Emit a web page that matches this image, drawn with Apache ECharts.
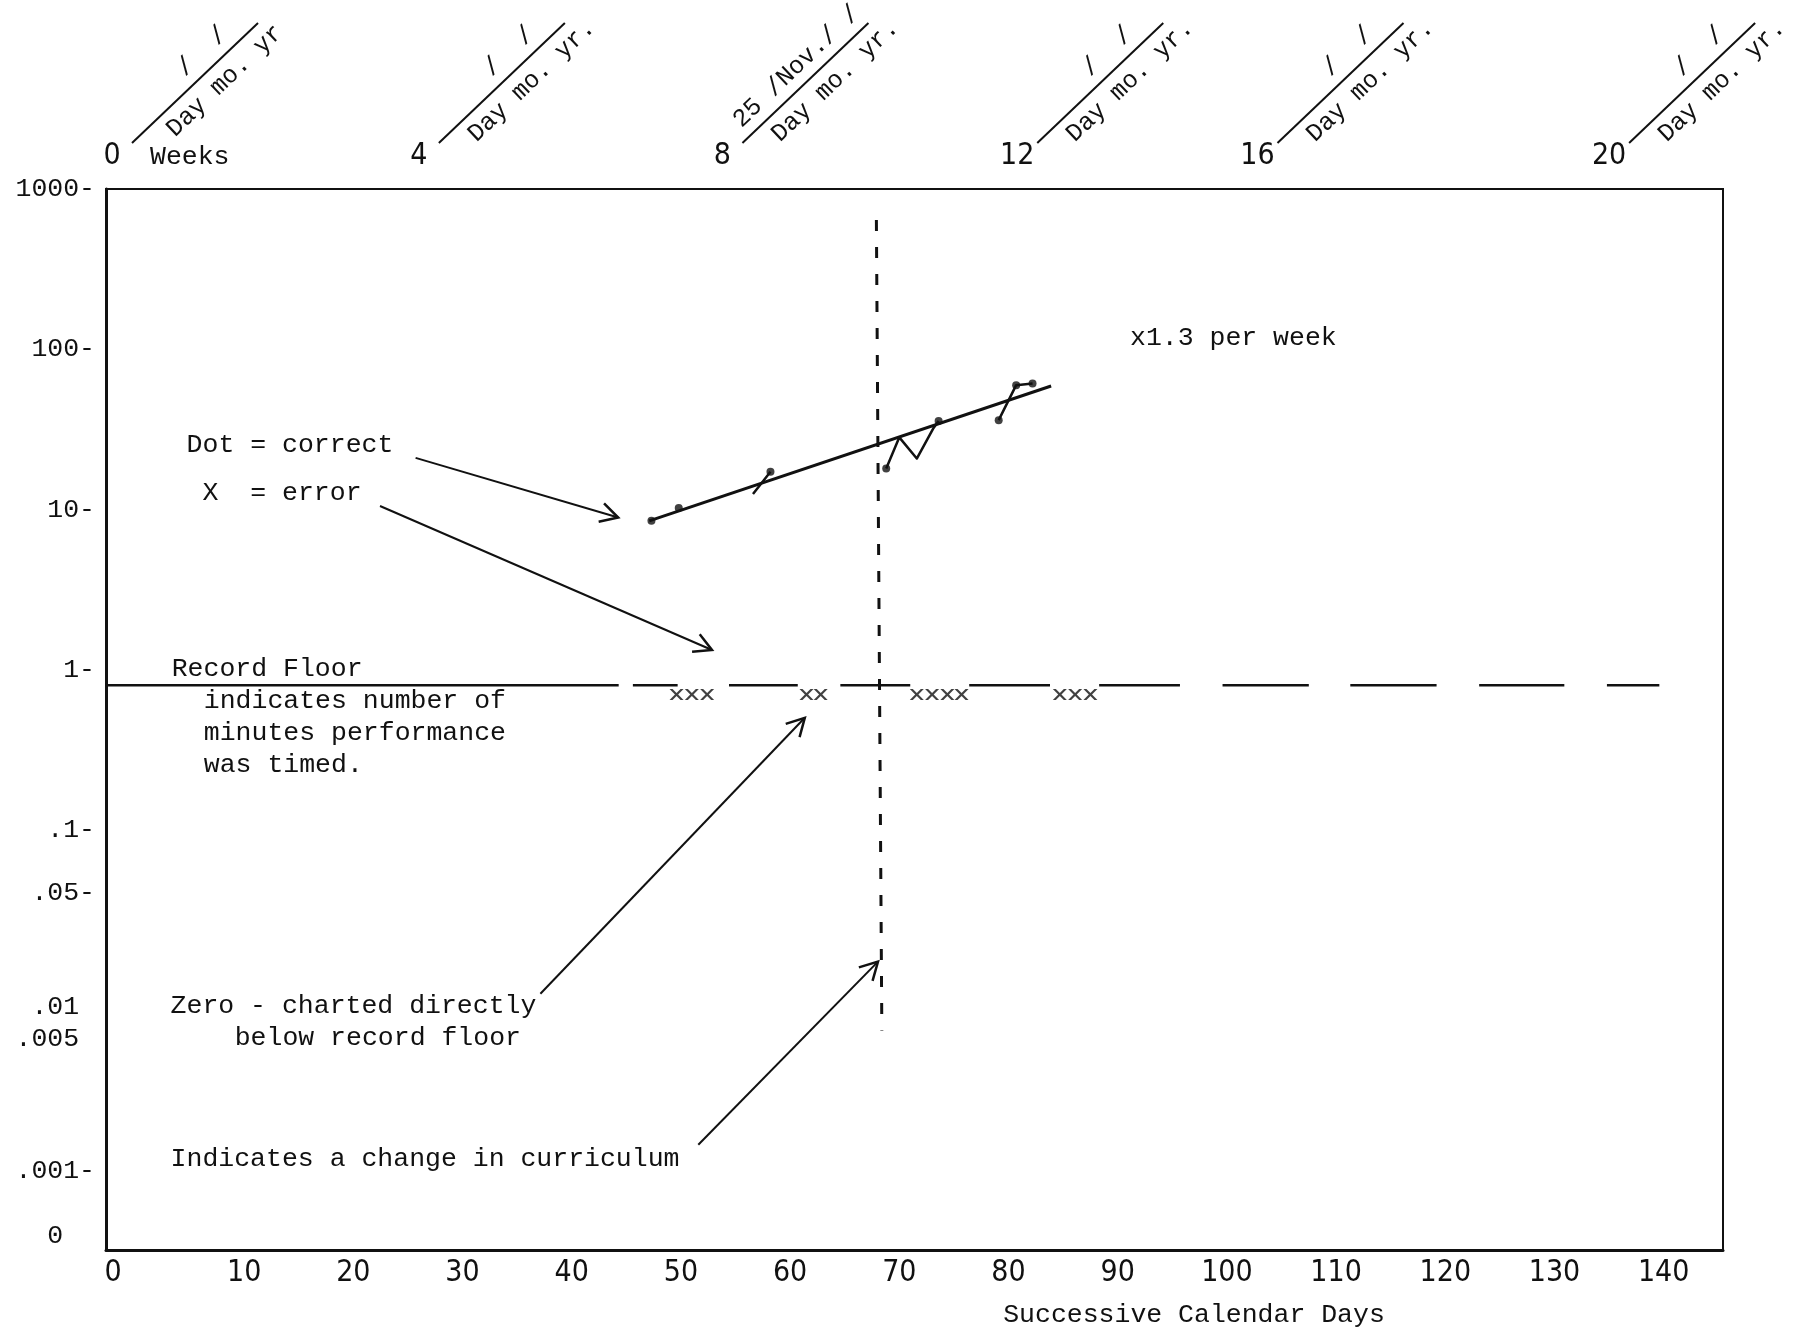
<!DOCTYPE html>
<html>
<head>
<meta charset="utf-8">
<script src="https://cdn.jsdelivr.net/npm/echarts@6/dist/echarts.min.js"></script>
<style>
  html, body { margin: 0; background: #fff; }
  #chart { width: 1795px; height: 1333px; }
</style>
</head>
<body>
<div id="chart"></div>
<script>
// ---- 坐标轴刻度 ----
const dayTickValues = [-2, 10, 20, 30, 40, 50, 60, 70, 80, 90, 100, 110, 120, 130, 140];
const dayTickLabels = ['0', '10', '20', '30', '40', '50', '60', '70', '80', '90', '100', '110', '120', '130', '140'];
const weekTickDays = [-2.1, 26.0, 53.8, 80.8, 102.8, 135.0];
const weekTickLabels = ['0', '4', '8', '12', '16', '20'];
const weekDateUpper = ['/  /', '/  /', '25 /Nov./ /', '/  /', '/  /', '/  /'];
const weekDateLower = ['Day mo. yr', 'Day mo. yr.', 'Day mo. yr.', 'Day mo. yr.', 'Day mo. yr.', 'Day mo. yr.'];
// y 轴：对数单位 (log10)，标签位置按原图读取
const yTickLevels = [3, 2, 1, 0, -1, -1.393, -2.107, -2.307, -3.129, -3.536];
const yTickLabels = ['1000-', '100-', '10-', '1-', '.1-', '.05-', '.01 ', '.005 ', '.001-', '0  '];

// ---- 数据 ----
const recordFloor = 0.8;
const floorSegments = [[-2.65, 44.3], [45.6, 49.7], [54.4, 60.7], [64.6, 71.0], [76.4, 83.8],
  [88.3, 95.7], [99.6, 107.5], [111.3, 119.2], [123.1, 130.9], [134.8, 139.6]];
// 正确次数（手绘连线，null 为断开）
const correctDays = [56.6, 58.2, null, 68.8, 70.0, 71.6, 73.1, 73.6, null, 79.1, 80.7, 82.2];
const correctValues = [12.5, 17.2, null, 18.0, 28.2, 20.8, 32.0, 35.7, null, 36.1, 59.7, 61.2];
const correctDotDays = [47.3, 49.8, 58.2, 68.8, 73.6, 79.1, 80.7, 82.2];
const correctDotValues = [8.5, 10.2, 17.2, 18.0, 35.7, 36.1, 59.7, 61.2];
// 加速线
const celerationDays = [47.1, 83.9];
const celerationValues = [8.5, 59];
// 错误为零，记在记录下限下方
const errorDays = [49.6, 51.0, 52.4, 61.5, 62.8, 71.6, 73.0, 74.4, 75.7, 84.7, 86.1, 87.5];
const errorValue = 0.7;
// 课程变更线
const phaseDays = [67.9, 68.4];
const phaseValues = [640, 0.0056];

const MONO = "'Liberation Mono', 'DejaVu Sans Mono', monospace";
const NARROW = "'Liberation Sans Narrow', 'DejaVu Sans Condensed', 'Liberation Sans', sans-serif";
const INK = '#111';

const lg = v => Math.log10(v);
const nearest = (arr, v) => {
  let best = 0;
  arr.forEach((a, i) => { if (Math.abs(a - v) < Math.abs(arr[best] - v)) best = i; });
  return best;
};

const floorData = [];
floorSegments.forEach(([a, b]) => {
  floorData.push([a, lg(recordFloor)], [b, lg(recordFloor)], [(a + b) / 2, '-']);
});

const correctData = correctDays.map((d, i) => d === null ? [0, '-'] : [d, lg(correctValues[i])]);

const xPath = 'path://M0,0 L3,0 L7,4 L11,0 L14,0 L8.6,5.5 L14,11 L11,11 L7,7 L3,11 L0,11 L5.4,5.5 Z';

const chart = echarts.init(document.getElementById('chart'));

const option = {
  backgroundColor: '#fff',
  animation: false,
  grid: { left: 106, top: 189, width: 1617, height: 1061, show: true, borderColor: INK, borderWidth: 2 },
  xAxis: [
    {
      type: 'value', min: -2.65, max: 145.43, position: 'bottom',
      axisLine: { show: true, onZero: false, lineStyle: { color: INK, width: 3 } },
      axisTick: { show: false }, splitLine: { show: false },
      axisLabel: {
        customValues: dayTickValues,
        formatter: v => dayTickLabels[nearest(dayTickValues, v)],
        margin: 8, color: INK, fontFamily: NARROW, fontSize: 30
      }
    },
    {
      type: 'value', min: -2.65, max: 145.43, position: 'top',
      axisLine: { show: false, onZero: false }, axisTick: { show: false }, splitLine: { show: false },
      axisLabel: {
        customValues: weekTickDays,
        formatter: v => weekTickLabels[nearest(weekTickDays, v)],
        margin: 18, color: INK, fontFamily: NARROW, fontSize: 30
      }
    }
  ],
  yAxis: {
    type: 'value', min: -3.621, max: 3.0,
    axisLine: { show: true, onZero: false, lineStyle: { color: INK, width: 3 } },
    axisTick: { show: false }, splitLine: { show: false },
    axisLabel: {
      customValues: yTickLevels,
      formatter: v => yTickLabels[nearest(yTickLevels, v)],
      margin: 11, color: INK, fontFamily: MONO, fontSize: 26.5
    }
  },
  series: [
    {
      name: 'Record Floor', type: 'line', data: floorData, symbol: 'none',
      lineStyle: { color: INK, width: 2.5 }, connectNulls: false, silent: true
    },
    {
      name: 'celeration', type: 'line', symbol: 'none',
      data: celerationDays.map((d, i) => [d, lg(celerationValues[i])]),
      lineStyle: { color: INK, width: 3 }, silent: true
    },
    {
      name: 'correct', type: 'line', symbol: 'none', data: correctData, connectNulls: false,
      lineStyle: { color: INK, width: 2.5, join: 'round' }, silent: true
    },
    {
      name: 'correct dots', type: 'scatter', symbolSize: 8,
      data: correctDotDays.map((d, i) => [d, lg(correctDotValues[i])]),
      itemStyle: { color: INK }, silent: true
    },
    {
      name: 'error', type: 'scatter', symbol: xPath, symbolSize: [14, 11],
      data: errorDays.map(d => [d, lg(errorValue)]),
      itemStyle: { color: INK }, silent: true
    },
    {
      name: 'change', type: 'line', symbol: 'none',
      data: phaseDays.map((d, i) => [d, lg(phaseValues[i])]),
      lineStyle: { color: INK, width: 3, type: [11, 16], cap: 'butt' }, silent: true
    }
  ]
};

chart.setOption(option);

// ---- 注释图形 ----
const textStyle = (text, extra) => Object.assign({
  text: text, font: '26.5px ' + MONO, fill: INK, verticalAlign: 'middle'
}, extra || {});

const graphics = [];
const addText = (x, y, text, extra) => graphics.push({ type: 'text', x: x, y: y, style: textStyle(text, extra) });

const addArrow = (x1, y1, x2, y2) => {
  graphics.push({ type: 'line', shape: { x1: x1, y1: y1, x2: x2, y2: y2 }, style: { stroke: INK, lineWidth: 2 } });
  const ang = Math.atan2(y2 - y1, x2 - x1);
  const len = 20, spread = 0.5;
  graphics.push({
    type: 'polyline',
    shape: { points: [
      [x2 - len * Math.cos(ang - spread), y2 - len * Math.sin(ang - spread)],
      [x2, y2],
      [x2 - len * Math.cos(ang + spread), y2 - len * Math.sin(ang + spread)]
    ] },
    style: { stroke: INK, lineWidth: 2.5, fill: null }
  });
};

// 顶部日期栏
const theta = 43.6 * Math.PI / 180;
const ux = Math.cos(theta), uy = -Math.sin(theta);
const nx = Math.sin(theta), ny = Math.cos(theta);
const labelY = 157;
weekTickDays.forEach((d, i) => {
  const cx = chart.convertToPixel({ xAxisIndex: 1 }, d);
  const sx = cx + 20, sy = labelY - 14, L = 174;
  const at = (a, p) => [sx + ux * a + nx * p, sy + uy * a + ny * p];
  graphics.push({ type: 'line', shape: { x1: sx, y1: sy, x2: sx + ux * L, y2: sy + uy * L }, style: { stroke: INK, lineWidth: 2 } });
  const lo = at(110, 19);
  const up = at(i === 2 ? 92 : 114, -18);
  graphics.push({ type: 'text', x: lo[0], y: lo[1], rotation: theta, style: textStyle(weekDateLower[i], { align: 'center', font: '25px ' + MONO }) });
  graphics.push({ type: 'text', x: up[0], y: up[1], rotation: theta, style: textStyle(weekDateUpper[i], { align: 'center', font: '25px ' + MONO }) });
});
addText(150, labelY, 'Weeks');

// 图内说明
addText(186.6, 445.3, 'Dot = correct');
addText(186.6, 493.4, ' X  = error');
addText(1130, 337.7, 'x1.3 per week');
addText(171.7, 668.6, 'Record Floor');
addText(203.8, 700.6, 'indicates number of');
addText(203.8, 732.7, 'minutes performance');
addText(203.8, 764.7, 'was timed.');
addText(170.6, 1006.3, 'Zero - charted directly');
addText(234.7, 1038.3, 'below record floor');
addText(170.6, 1158.5, 'Indicates a change in curriculum');
addText(1194, 1315.4, 'Successive Calendar Days', { align: 'center' });

addArrow(415.6, 457.9, 618.2, 517.5);
addArrow(380, 506, 712, 650);
addArrow(540.4, 993.7, 804.8, 717.8);
addArrow(698.3, 1144.8, 878, 961.6);

chart.setOption({ graphic: graphics });
</script>
</body>
</html>
